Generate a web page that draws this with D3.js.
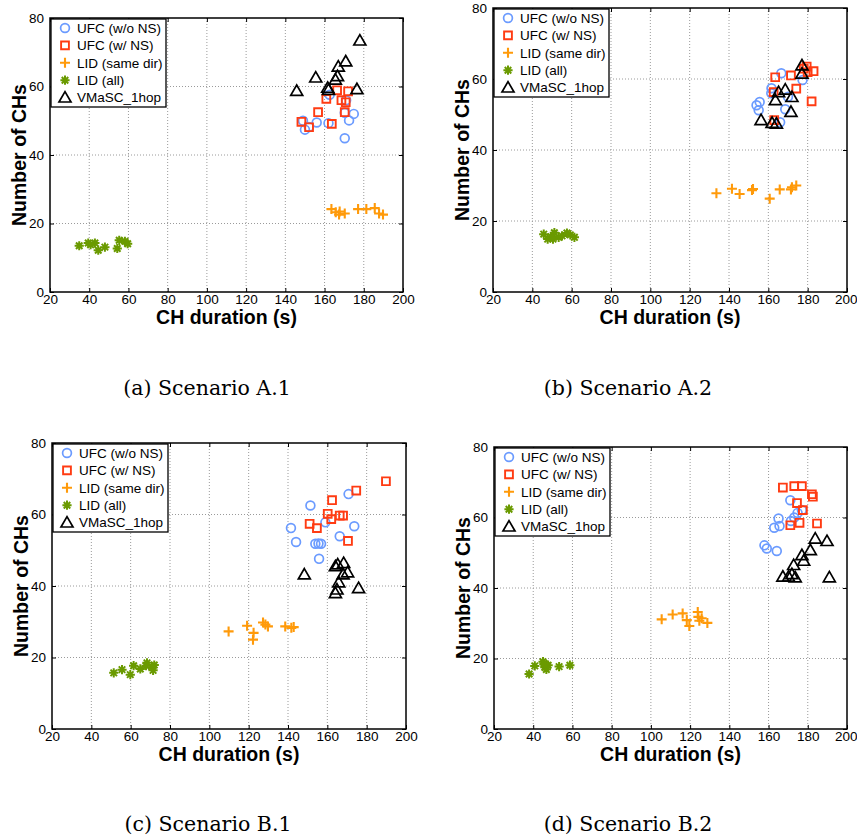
<!DOCTYPE html>
<html>
<head>
<meta charset="utf-8">
<script src="https://cdn.jsdelivr.net/npm/d3@7"></script>
<style>
  html, body { margin: 0; padding: 0; background: #fff; }
  svg { display: block; }
</style>
</head>
<body>
<svg id="chart" width="857" height="837"></svg>
<script>
// ---------- data ----------
const xTicks = [20, 40, 60, 80, 100, 120, 140, 160, 180, 200];
const yTicks = [0, 20, 40, 60, 80];
const seriesNames = ["UFC (w/o NS)", "UFC (w/ NS)", "LID (same dir)", "LID (all)", "VMaSC_1hop"];
const captions = ["(a) Scenario A.1", "(b) Scenario A.2", "(c) Scenario B.1", "(d) Scenario B.2"];
const xTitle = "CH duration (s)";
const yTitle = "Number of CHs";

// Scenario A.1
const a1_ufcNoNS = [[149,50],[150,47.4],[152,48.2],[156,49.5],[162,49.3],[162.6,57.6],[170.3,44.9],[170.3,52.3],[172.5,50.1],[174.9,52],[171,56]];
const a1_ufcNS   = [[148.2,49.7],[152.1,48.1],[156.7,52.5],[160.9,56.4],[163.7,49.1],[166.4,58.9],[168.6,56],[170.8,55.4],[170.3,52.5],[172,58.6]];
const a1_lidSame = [[163.5,24.2],[165.7,23.3],[167.4,22.6],[170.3,22.9],[177.1,24.2],[181.3,24.2],[185.6,24.5],[187.8,22.9],[189.8,22.6],[167.7,23.5]];
const a1_lidAll  = [[34.9,13.5],[39.5,14.3],[42.9,14.3],[44.6,12.2],[48,13.1],[54.3,12.7],[55.3,15.1],[58.2,14.8],[59.6,14.1],[40.7,13.8]];
const a1_vmasc   = [[145.8,58.7],[155.5,62.6],[161.6,59.6],[162,59],[165.5,62],[166.6,63],[167,65.8],[170.8,67.3],[176.5,59.2],[178,73.4]];

// Scenario A.2
const a2_ufcNoNS = [[154,52.6],[155.6,53.5],[155.1,51.2],[161.6,57.4],[161.5,56],[166.6,61.6],[168.6,51.5],[166,47.8],[177.4,59.7],[170,55]];
const a2_ufcNS   = [[163.5,60.5],[162.7,56.3],[171.5,61],[174.2,57.3],[178,62.9],[180,61.9],[183,62.2],[182,53.7],[163,48.4],[179.5,63.5]];
const a2_lidSame = [[133.6,27.8],[141.5,29.1],[145.4,27.6],[151.7,28.7],[152.2,29],[160.7,26.3],[165.8,28.9],[171.5,28.9],[172,29.5],[174.2,30]];
const a2_lidAll  = [[45.8,16.3],[47.8,14.9],[49.5,15.6],[51.2,16.7],[53.4,15.4],[55.1,15.8],[57.6,16.6],[59.3,16.1],[61.4,15.4],[50.5,14.9]];
const a2_vmasc   = [[156.3,48.4],[161.9,47.6],[164.1,47.4],[163.6,54],[165.2,56.3],[168.6,57],[172,54.9],[171.5,50.7],[177.1,63.8],[177.1,61.5]];

// Scenario B.1
const b1_ufcNoNS = [[141.5,56.2],[144.1,52.3],[151.4,62.5],[153.9,51.8],[156.8,51.8],[155.8,47.6],[159,57.8],[166.3,53.9],[170.8,65.7],[173.7,56.7],[155.5,51.9]];
const b1_ufcNS   = [[151,57.4],[154.7,56.2],[160.2,60.2],[162.4,64],[162,58.7],[166.3,59.7],[168,59.7],[170.5,52.6],[174.7,66.7],[189.8,69.3]];
const b1_lidSame = [[109.8,27.3],[119.2,28.9],[122.5,26.9],[122.2,25],[127.3,29.8],[128.5,29.2],[129.8,28.7],[138.6,28.7],[141.7,28.3],[142.9,28.5]];
const b1_lidAll  = [[51.4,15.7],[55.6,16.6],[59.8,15.2],[61.5,17.7],[64.9,16.8],[67.8,17.7],[68.3,18.5],[70.8,17.3],[71.4,16.4],[72,17.9]];
const b1_vmasc   = [[148.3,43.2],[164.1,45.5],[165.3,46],[168.3,46.4],[165.8,41],[164.9,39],[164.1,38],[168,43.2],[170.3,43.8],[175.9,39.4]];

// Scenario B.2
const b2_ufcNoNS = [[157.9,52.1],[159.1,51.2],[164.2,50.5],[162.9,57.1],[165.1,59.7],[165.6,57.6],[171.1,64.9],[171.4,59],[173.1,60],[174.8,61.3],[177,62.1]];
const b2_ufcNS   = [[167.3,68.5],[173.1,68.9],[177,68.9],[182.1,66.6],[182.6,65.9],[174.5,64.1],[177.5,62.1],[171.1,57.8],[175.8,58.5],[184.7,58.3]];
const b2_lidSame = [[105.5,31.1],[111.1,32.5],[116.2,32.8],[118.3,30.9],[119.6,29.2],[123.9,33.2],[124.7,30.7],[125.9,31.4],[128.8,30.1],[124.2,31.8]];
const b2_lidAll  = [[37.9,15.6],[40.8,17.9],[45,19.1],[45.9,17.5],[46.7,18],[46.7,16.9],[47.6,18.1],[53.2,17.7],[58.7,18.1],[45.5,18.6]];
const b2_vmasc   = [[167.3,43.2],[170.2,43.2],[173.6,43],[172.8,46.5],[177,49.3],[177.9,47.7],[181.3,50.7],[183.8,54],[189.8,53.3],[191,43],[171.9,43.9]];

// ---------- layout / style ----------
const panels = [
  {caption: captions[0], box: {l: 50,  r: 403, t: 18,  b: 292}, cap: {x: 207, y: 395},
   series: [a1_ufcNoNS, a1_ufcNS, a1_lidSame, a1_lidAll, a1_vmasc]},
  {caption: captions[1], box: {l: 493, r: 847, t: 8,   b: 292}, cap: {x: 628, y: 395},
   series: [a2_ufcNoNS, a2_ufcNS, a2_lidSame, a2_lidAll, a2_vmasc]},
  {caption: captions[2], box: {l: 52,  r: 406, t: 443, b: 729}, cap: {x: 208, y: 831},
   series: [b1_ufcNoNS, b1_ufcNS, b1_lidSame, b1_lidAll, b1_vmasc]},
  {caption: captions[3], box: {l: 494, r: 847, t: 447, b: 729}, cap: {x: 628, y: 831},
   series: [b2_ufcNoNS, b2_ufcNS, b2_lidSame, b2_lidAll, b2_vmasc]}
];

const styles = [
  {shape: "circle",   color: "#6b9bff", width: 1.7},
  {shape: "square",   color: "#ff3b12", width: 1.9},
  {shape: "plus",     color: "#ff9a0a", width: 2.1},
  {shape: "asterisk", color: "#6a9a00", width: 2.0},
  {shape: "triangle", color: "#000000", width: 1.7}
];

function markerPath(shape) {
  switch (shape) {
    case "circle": { const r = 4.4; return `M${r},0A${r},${r} 0 1,1 ${-r},0A${r},${r} 0 1,1 ${r},0Z`; }
    case "square": { const s = 3.9; return `M${-s},${-s}H${s}V${s}H${-s}Z`; }
    case "plus": { const a = 5; return `M${-a},0H${a}M0,${-a}V${a}`; }
    case "asterisk": {
      const a = 4.6, d = a * 0.7071;
      return `M${-a},0H${a}M0,${-a}V${a}M${-d},${-d}L${d},${d}M${-d},${d}L${d},${-d}`;
    }
    case "triangle": { const h = 5.2, w = 6; return `M0,${-h - 0.8}L${w},${h - 0.8}H${-w}Z`; }
  }
}

const svg = d3.select("#chart");
const font = "'Liberation Sans', Arial, Helvetica, sans-serif";

panels.forEach(p => {
  const g = svg.append("g");
  const {l, r, t, b} = p.box;
  const x = d3.scaleLinear().domain([20, 200]).range([l, r]);
  const y = d3.scaleLinear().domain([0, 80]).range([b, t]);

  // grid
  g.append("g").selectAll("line").data(xTicks.slice(1, -1)).join("line")
    .attr("x1", d => x(d)).attr("x2", d => x(d)).attr("y1", t).attr("y2", b)
    .attr("stroke", "#9a9a9a").attr("stroke-width", 1).attr("stroke-dasharray", "1,2");
  g.append("g").selectAll("line").data(yTicks.slice(1, -1)).join("line")
    .attr("x1", l).attr("x2", r).attr("y1", d => y(d)).attr("y2", d => y(d))
    .attr("stroke", "#9a9a9a").attr("stroke-width", 1).attr("stroke-dasharray", "1,2");

  // axes (ticks inside) using d3 axes
  const xAxisB = g.append("g").attr("transform", `translate(0,${b})`)
    .call(d3.axisBottom(x).tickValues(xTicks).tickSize(-4).tickPadding(5).tickFormat(d3.format("d")));
  const xAxisT = g.append("g").attr("transform", `translate(0,${t})`)
    .call(d3.axisTop(x).tickValues(xTicks).tickSize(-4).tickFormat(""));
  const yAxisL = g.append("g").attr("transform", `translate(${l},0)`)
    .call(d3.axisLeft(y).tickValues(yTicks).tickSize(-4).tickPadding(6).tickFormat(d3.format("d")));
  const yAxisR = g.append("g").attr("transform", `translate(${r},0)`)
    .call(d3.axisRight(y).tickValues(yTicks).tickSize(-4).tickFormat(""));
  [xAxisB, xAxisT, yAxisL, yAxisR].forEach(a => {
    a.select(".domain").remove();
    a.selectAll(".tick line").attr("stroke", "#000").attr("stroke-width", 1);
    a.selectAll("text").attr("font-family", font).attr("font-size", 13.5).attr("fill", "#000");
  });
  xAxisB.selectAll("text").attr("dy", "0.5em");
  // keep the last x label inside the page
  xAxisB.selectAll(".tick text").filter(d => d === 200 && r > 840).attr("text-anchor", "end").attr("dx", "0.75em");

  // markers
  p.series.forEach((data, i) => {
    const st = styles[i];
    g.append("g").selectAll("path").data(data).join("path")
      .attr("transform", d => `translate(${x(d[0])},${y(d[1])})`)
      .attr("d", markerPath(st.shape))
      .attr("fill", "none").attr("stroke", st.color).attr("stroke-width", st.width)
      .attr("stroke-linejoin", "miter");
  });

  // frame
  g.append("rect").attr("x", l).attr("y", t).attr("width", r - l).attr("height", b - t)
    .attr("fill", "none").attr("stroke", "#000").attr("stroke-width", 1.5);

  // legend
  const lg = g.append("g").attr("transform", `translate(${l + 1},${t + 1})`);
  lg.append("rect").attr("x", 0).attr("y", 0).attr("width", 115).attr("height", 88)
    .attr("fill", "#fff").attr("stroke", "#000").attr("stroke-width", 1.3);
  seriesNames.forEach((name, i) => {
    const yy = 9 + i * 17.4;
    const st = styles[i];
    lg.append("path").attr("transform", `translate(14,${yy})`).attr("d", markerPath(st.shape))
      .attr("fill", "none").attr("stroke", st.color).attr("stroke-width", st.width);
    lg.append("text").attr("x", 26).attr("y", yy).attr("dy", "0.36em")
      .attr("font-family", font).attr("font-size", 13.5).text(name);
  });

  // axis titles
  g.append("text").attr("x", (l + r) / 2).attr("y", b + 32).attr("text-anchor", "middle")
    .attr("font-family", font).attr("font-weight", "bold").attr("font-size", 19.5).text(xTitle);
  g.append("text").attr("transform", `translate(${l - 24},${(t + b) / 2}) rotate(-90)`)
    .attr("text-anchor", "middle")
    .attr("font-family", font).attr("font-weight", "bold").attr("font-size", 19.5).text(yTitle);

  // caption
  svg.append("text").attr("x", p.cap.x).attr("y", p.cap.y).attr("text-anchor", "middle")
    .attr("font-family", "'DejaVu Serif', serif").attr("font-size", 20.5).text(p.caption);
});
</script>
</body>
</html>
